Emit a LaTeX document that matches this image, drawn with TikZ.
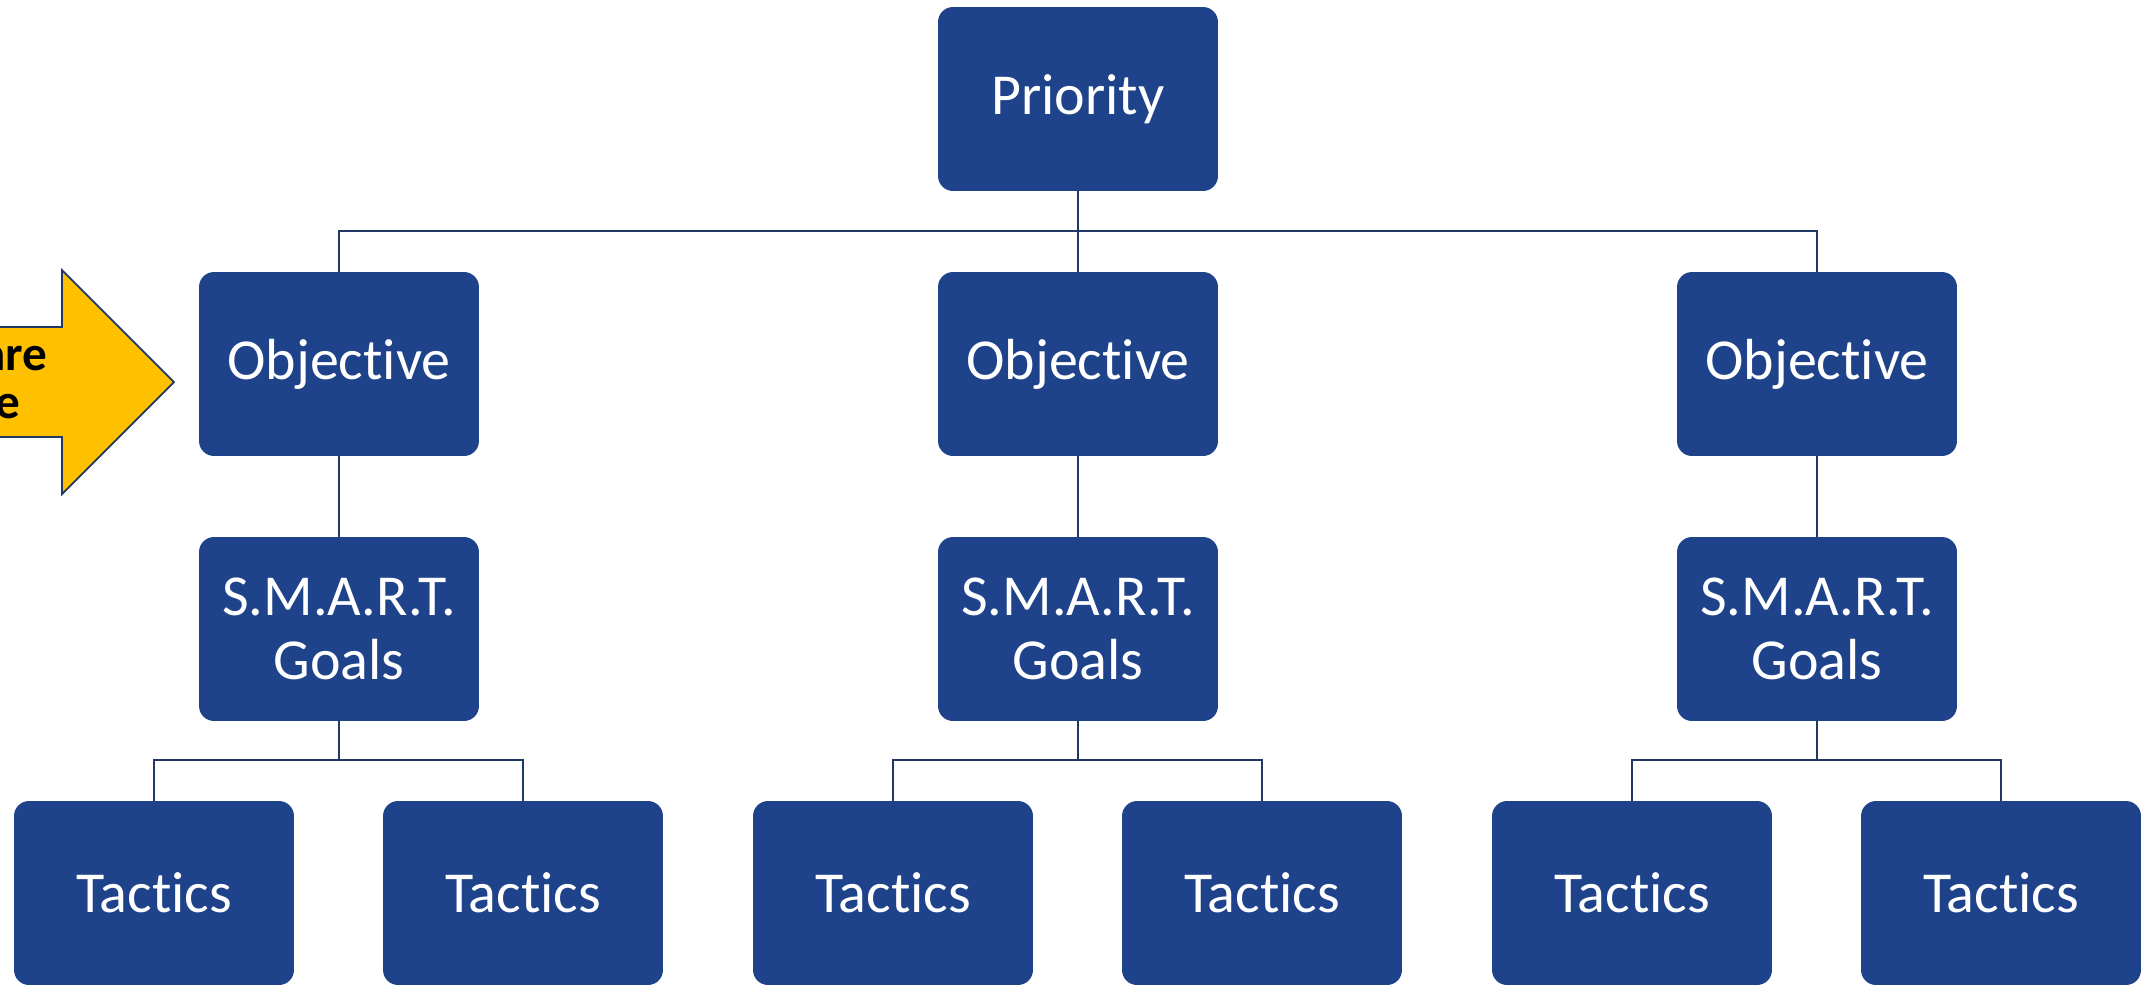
\documentclass[tikz,border=0pt]{standalone}
\usepackage{fontspec}
\setmainfont{Carlito}[Ligatures=NoCommon]
\usepackage{xcolor}
\usepackage{tikz}
\definecolor{boxblue}{RGB}{31,67,138}
\definecolor{linenavy}{RGB}{31,56,100}
\definecolor{arrowgold}{RGB}{255,192,0}

\begin{document}
\begin{tikzpicture}[x=0.02cm,y=-0.02cm,
    box/.style={fill=boxblue,text=white,rounded corners=0.3cm,minimum width=5.6cm,minimum height=3.68cm,inner sep=0pt,align=center,font=\fontsize{33}{36.5}\selectfont},
    link/.style={draw=linenavy,line width=1.2pt},
    cut/.style={anchor=base east,inner sep=0pt,font=\bfseries\fontsize{28}{34}\selectfont}]
    \useasboundingbox (0,0) rectangle (2141,985);
    \draw[fill=arrowgold,draw=linenavy,line width=1pt] (-60,327) -- (62,327) -- (62,270) -- (174,382) -- (62,494) -- (62,437) -- (-60,437) -- cycle;
    \node[cut] (w1) at (48,370) {are};
    \node[cut] (w2) at (21,418) {e};
    \node[box] (p) at (1078,99) {Priority};
    \coordinate (b0) at (1078,231);
    \foreach \i/\x in {1/339,2/1078,3/1817} {
        \node[box] (o\i) at (\x,364) {Objective};
        \node[box] (g\i) at (\x,629) {S.M.A.R.T.\\Goals};
        \node[box] (t\i1) at (\x-185,893) {Tactics};
        \node[box] (t\i2) at (\x+184,893) {Tactics};
        \coordinate (b\i) at (\x,760);
        \draw[link] (o\i) to (g\i);
        \draw[link] (g\i.south) to (b\i);
        \draw[link] (t\i1.north) |- (b\i) -| (t\i2.north);
    }
    \draw[link] (p.south) to (b0);
    \draw[link] (o1.north) |- (b0) -| (o3.north);
    \draw[link] (b0) to (o2.north);
\end{tikzpicture}
\end{document}
